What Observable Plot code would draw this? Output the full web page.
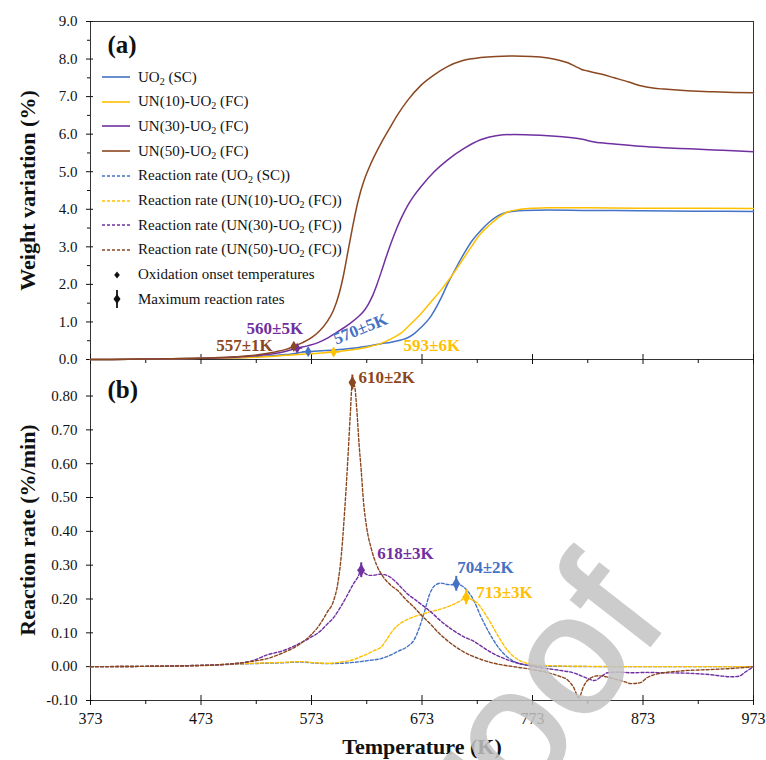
<!DOCTYPE html>
<html>
<head>
<meta charset="utf-8">
<script src="https://cdn.jsdelivr.net/npm/d3@7"></script>
<script src="https://cdn.jsdelivr.net/npm/@observablehq/plot@0.6"></script>
<style>
  html, body { margin: 0; padding: 0; background: #fff; overflow: hidden; }
  #chart { position: relative; width: 766px; height: 760px; font-family: "Liberation Serif", "Times New Roman", Times, serif; color: #111; }
  #chart > svg, #chart > figure { position: absolute; left: 0; margin: 0; }
  g[aria-label="value label"] text { letter-spacing: 1.8px; }
  .legend-row { position: absolute; left: 100px; height: 20px; display: flex; align-items: center; font-size: 15px; white-space: nowrap; }
  .legend-row svg { width: 32px; height: 20px; margin-right: 6px; overflow: visible; }
  .legend-row sub { font-size: 10px; vertical-align: -3px; line-height: 0; }
</style>
</head>
<body>
<div id="chart"></div>
<script>
// ---- axes ----
const tempTicks = [373, 473, 573, 673, 773, 873, 973];
const tempMinorTicks = [423, 523, 623, 723, 823, 923];
const weightTicks = [0, 1, 2, 3, 4, 5, 6, 7, 8, 9];
const weightMinorTicks = [0.5, 1.5, 2.5, 3.5, 4.5, 5.5, 6.5, 7.5, 8.5];
const rateTicks = [-0.1, 0, 0.1, 0.2, 0.3, 0.4, 0.5, 0.6, 0.7, 0.8];

// ---- samples ----
const samples = ["UO2 (SC)", "UN(10)-UO2 (FC)", "UN(30)-UO2 (FC)", "UN(50)-UO2 (FC)"];
const sampleColors = ["#4472c4", "#ffc000", "#7030a0", "#8b4720"];

// ---- (a) weight variation (%) vs temperature (K) ----
const weightT_UO2 = [373, 423, 473, 523, 550, 570, 593, 610, 625, 636, 645, 654, 660, 666, 672, 681, 690, 696, 704, 711, 718, 726, 734, 742, 750, 756, 765, 787, 820, 870, 920, 973];
const weight_UO2  = [0, 0.01, 0.03, 0.07, 0.13, 0.21, 0.25, 0.3, 0.36, 0.42, 0.46, 0.52, 0.58, 0.69, 0.85, 1.15, 1.62, 2.0, 2.45, 2.82, 3.15, 3.43, 3.66, 3.83, 3.92, 3.95, 3.97, 3.98, 3.97, 3.96, 3.95, 3.94];

const weightT_UN10 = [373, 423, 473, 523, 550, 570, 593, 610, 625, 636, 645, 654, 663, 672, 681, 690, 696, 704, 711, 718, 726, 734, 742, 750, 762, 775, 787, 820, 870, 920, 973];
const weight_UN10  = [0, 0.01, 0.03, 0.06, 0.11, 0.15, 0.2, 0.26, 0.34, 0.43, 0.55, 0.7, 0.95, 1.22, 1.53, 1.84, 2.07, 2.4, 2.71, 3.02, 3.35, 3.58, 3.78, 3.92, 4.0, 4.03, 4.04, 4.04, 4.03, 4.03, 4.02];

const weightT_UN30 = [373, 423, 473, 503, 523, 540, 550, 560, 570, 579, 587, 593, 600, 608, 615, 620, 624, 628, 632, 636, 640, 645, 650, 654, 660, 666, 672, 684, 696, 710, 726, 740, 756, 772, 787, 800, 817, 829, 847, 870, 892, 915, 937, 955, 973];
const weight_UN30  = [0, 0.01, 0.03, 0.06, 0.1, 0.16, 0.22, 0.3, 0.37, 0.45, 0.56, 0.67, 0.8, 0.96, 1.13, 1.28, 1.45, 1.68, 1.98, 2.32, 2.68, 3.1, 3.48, 3.75, 4.1, 4.37, 4.6, 5.0, 5.31, 5.6, 5.85, 5.96, 5.99, 5.98, 5.96, 5.93, 5.87, 5.79, 5.74, 5.68, 5.64, 5.61, 5.58, 5.56, 5.53];

const weightT_UN50 = [373, 423, 473, 503, 523, 540, 550, 557, 565, 573, 580, 587, 593, 598, 602, 606, 610, 615, 620, 625, 630, 636, 643, 651, 660, 672, 684, 696, 710, 726, 740, 756, 772, 787, 797, 805, 812, 817, 823, 835, 847, 860, 871, 882, 892, 910, 937, 955, 973];
const weight_UN50  = [0, 0.01, 0.03, 0.07, 0.12, 0.2, 0.27, 0.35, 0.45, 0.58, 0.75, 1.0, 1.32, 1.75, 2.25, 2.88, 3.5, 4.2, 4.72, 5.1, 5.42, 5.76, 6.12, 6.52, 6.9, 7.3, 7.58, 7.8, 7.96, 8.04, 8.07, 8.08, 8.07, 8.03, 7.97, 7.9, 7.8, 7.73, 7.68, 7.6, 7.5, 7.39, 7.29, 7.23, 7.2, 7.16, 7.13, 7.11, 7.1];

// oxidation onset temperatures (K), their uncertainty and the weight at onset
const onsetTemp = [570, 593, 560, 557];
const onsetErr = [5, 6, 5, 1];
const onsetWeight = [0.21, 0.2, 0.3, 0.35];

// ---- (b) reaction rate (%/min) vs temperature (K) ----
const rateT_UO2 = [373, 423, 473, 503, 530, 550, 563, 575, 587, 600, 612, 624, 636, 645, 651, 660, 666, 670, 675, 680, 684, 690, 696, 700, 704, 710, 714, 720, 726, 733, 741, 748, 756, 765, 780, 800, 850, 900, 973];
const rate_UO2  = [0, 0.001, 0.004, 0.007, 0.01, 0.012, 0.014, 0.011, 0.009, 0.01, 0.013, 0.018, 0.024, 0.035, 0.045, 0.06, 0.08, 0.11, 0.16, 0.215, 0.238, 0.247, 0.243, 0.242, 0.245, 0.237, 0.225, 0.195, 0.15, 0.105, 0.062, 0.035, 0.016, 0.006, 0.002, 0.001, 0, 0, 0];

const rateT_UN10 = [373, 423, 473, 503, 530, 550, 563, 575, 587, 600, 612, 618, 624, 630, 636, 641, 645, 651, 657, 666, 673, 681, 690, 696, 702, 708, 713, 718, 723, 729, 735, 742, 750, 758, 765, 775, 787, 820, 870, 920, 973];
const rate_UN10  = [0, 0.001, 0.004, 0.008, 0.011, 0.013, 0.015, 0.012, 0.01, 0.014, 0.022, 0.03, 0.038, 0.048, 0.058, 0.08, 0.1, 0.122, 0.135, 0.148, 0.155, 0.163, 0.17, 0.177, 0.185, 0.195, 0.205, 0.198, 0.188, 0.162, 0.13, 0.09, 0.05, 0.025, 0.013, 0.006, 0.003, 0.001, 0, 0, 0];

const rateT_UN30 = [373, 423, 473, 503, 520, 533, 548, 563, 572, 581, 587, 593, 600, 606, 611, 615, 618, 621, 625, 629, 634, 639, 644, 648, 654, 660, 666, 672, 681, 690, 700, 711, 720, 726, 734, 741, 749, 756, 772, 787, 800, 810, 817, 823, 829, 835, 841, 850, 862, 877, 892, 910, 923, 935, 945, 953, 960, 966, 973];
const rate_UN30  = [0, 0.001, 0.004, 0.009, 0.018, 0.035, 0.048, 0.07, 0.086, 0.105, 0.125, 0.145, 0.18, 0.215, 0.245, 0.265, 0.285, 0.277, 0.27, 0.27, 0.273, 0.272, 0.265, 0.255, 0.235, 0.215, 0.2, 0.185, 0.162, 0.135, 0.11, 0.088, 0.075, 0.062, 0.045, 0.033, 0.022, 0.014, 0.002, -0.006, -0.012, -0.018, -0.027, -0.035, -0.041, -0.03, -0.018, -0.016, -0.018, -0.017, -0.018, -0.019, -0.021, -0.024, -0.028, -0.03, -0.028, -0.015, 0];

const rateT_UN50 = [373, 423, 473, 503, 520, 533, 548, 563, 572, 581, 587, 593, 597, 600, 603, 606, 608, 610, 612, 614, 616, 618, 620, 623, 627, 632, 638, 645, 651, 658, 666, 673, 681, 688, 696, 710, 726, 741, 756, 772, 787, 797, 805, 810, 815, 819, 823, 832, 840, 847, 855, 862, 870, 877, 885, 892, 910, 930, 950, 973];
const rate_UN50  = [0, 0.001, 0.003, 0.009, 0.016, 0.024, 0.042, 0.068, 0.092, 0.127, 0.16, 0.195, 0.25, 0.33, 0.46, 0.62, 0.74, 0.84, 0.83, 0.76, 0.66, 0.58, 0.49, 0.41, 0.35, 0.3, 0.265, 0.24, 0.225, 0.2, 0.175, 0.15, 0.125, 0.1, 0.077, 0.045, 0.022, 0.008, 0, -0.008, -0.018, -0.028, -0.04, -0.06, -0.092, -0.06, -0.04, -0.027, -0.03, -0.036, -0.043, -0.05, -0.048, -0.032, -0.022, -0.018, -0.012, -0.009, -0.006, 0];

// maximum reaction rates: temperature (K), uncertainty (K), rate (%/min)
const peakTemp = [704, 713, 618, 610];
const peakErr = [2, 3, 3, 2];
const peakRate = [0.245, 0.205, 0.285, 0.84];
const peakRateErr = [0.022, 0.022, 0.022, 0.022];

// ---- tables for the marks ----
const series = (name, temps, values) => temps.map((T, i) => ({sample: name, T, v: values[i]}));
const weightRows = [
  ...series(samples[0], weightT_UO2, weight_UO2),
  ...series(samples[1], weightT_UN10, weight_UN10),
  ...series(samples[2], weightT_UN30, weight_UN30),
  ...series(samples[3], weightT_UN50, weight_UN50)
];
const rateRows = [
  ...series(samples[0], rateT_UO2, rate_UO2),
  ...series(samples[1], rateT_UN10, rate_UN10),
  ...series(samples[2], rateT_UN30, rate_UN30),
  ...series(samples[3], rateT_UN50, rate_UN50)
];
const onsetRows = samples.map((s, i) => ({sample: s, T: onsetTemp[i], err: onsetErr[i], v: onsetWeight[i]}));
const peakRows = samples.map((s, i) => ({sample: s, T: peakTemp[i], err: peakErr[i], v: peakRate[i], vErr: peakRateErr[i]}));
const valueText = d => `${d.T}±${d.err}K`;

// label placement next to each marker (order follows `samples`)
const onsetLabelPlacement = [
  {textAnchor: "start", dx: 26, dy: -12, rotate: -22},
  {textAnchor: "start", dx: 70, dy: -6},
  {textAnchor: "end", dx: 6, dy: -20},
  {textAnchor: "end", dx: -21, dy: -1}
];
const peakLabelPlacement = [
  {textAnchor: "start", dx: 1, dy: -16},
  {textAnchor: "start", dx: 10, dy: -5},
  {textAnchor: "start", dx: 16, dy: -17},
  {textAnchor: "start", dx: 6, dy: -5}
];

const serif = '"Liberation Serif", "Times New Roman", Times, serif';
const ink = "#111";
const common = {
  width: 766,
  marginLeft: 90,
  marginRight: 13,
  x: {domain: [373, 973]},
  color: {domain: samples, range: sampleColors},
  style: {background: "transparent", overflow: "visible", fontFamily: serif, fontSize: "15px", color: ink}
};
const noText = () => "";

function tempAxes(withLabels) {
  return [
    Plot.axisX(tempTicks, {tickSize: 5, tickPadding: 7, fontSize: 16, label: null, tickFormat: withLabels ? (d => String(d)) : noText}),
    Plot.axisX(tempTicks, {tickSize: -5, label: null, tickFormat: noText}),
    Plot.axisX(tempMinorTicks, {tickSize: 4, label: null, tickFormat: noText})
  ];
}

// ---- panel (a) ----
const plotA = Plot.plot({
  ...common,
  height: 360,
  marginTop: 21,
  marginBottom: 1,
  y: {domain: [0, 9]},
  marks: [
    Plot.frame({stroke: "#333"}),
    Plot.axisY(weightTicks, {tickSize: 4, tickPadding: 9, label: null, tickFormat: d => d.toFixed(1)}),
    Plot.axisY(weightTicks, {tickSize: -3, label: null, tickFormat: noText}),
    Plot.axisY(weightMinorTicks, {tickSize: 3, label: null, tickFormat: noText}),
    ...tempAxes(false),
    Plot.line(weightRows, {x: "T", y: "v", z: "sample", stroke: "sample", strokeWidth: 1.5, curve: "monotone-x"}),
    Plot.ruleY(onsetRows, {y: "v", x1: d => d.T - d.err, x2: d => d.T + d.err, stroke: "sample", strokeWidth: 1.2}),
    Plot.dot(onsetRows, {x: "T", y: "v", fill: "sample", symbol: "diamond", r: 3.4}),
    ...onsetRows.map((d, i) => Plot.text([d], {
      x: "T", y: "v", text: valueText, fill: sampleColors[i],
      fontSize: 17, fontWeight: "bold", lineAnchor: "middle", ariaLabel: "value label",
      ...onsetLabelPlacement[i]
    })),
    Plot.text(["(a)"], {frameAnchor: "top-left", dx: 17, dy: 14, fontSize: 25, fontWeight: "bold", textAnchor: "start", lineAnchor: "top", fill: ink}),
    Plot.text(["Weight variation (%)"], {frameAnchor: "left", dx: -63, rotate: -90, textAnchor: "middle", lineAnchor: "middle", fontSize: 22, fontWeight: "bold", fill: ink})
  ]
});

// ---- panel (b) ----
const plotB = Plot.plot({
  ...common,
  height: 401,
  marginTop: 0,
  marginBottom: 60,
  y: {domain: [-0.1, 0.908]},
  marks: [
    Plot.frame({stroke: "#333"}),
    Plot.axisY(rateTicks, {tickSize: 4, tickPadding: 9, label: null, tickFormat: d => d.toFixed(2)}),
    Plot.axisY(rateTicks, {tickSize: -3, label: null, tickFormat: noText}),
    ...tempAxes(true),
    Plot.line(rateRows, {x: "T", y: "v", z: "sample", stroke: "sample", strokeWidth: 1.4, strokeDasharray: "3,2", curve: "monotone-x"}),
    Plot.ruleX(peakRows, {x: "T", y1: d => d.v - d.vErr, y2: d => d.v + d.vErr, stroke: "sample", strokeWidth: 2}),
    Plot.ruleY(peakRows, {y: "v", x1: d => d.T - d.err, x2: d => d.T + d.err, stroke: "sample", strokeWidth: 1.5}),
    Plot.dot(peakRows, {x: "T", y: "v", fill: "sample", symbol: "diamond", r: 4}),
    ...peakRows.map((d, i) => Plot.text([d], {
      x: "T", y: "v", text: valueText, fill: sampleColors[i],
      fontSize: 17, fontWeight: "bold", lineAnchor: "middle", ariaLabel: "value label",
      ...peakLabelPlacement[i]
    })),
    Plot.text(["(b)"], {frameAnchor: "top-left", dx: 17, dy: 21, fontSize: 25, fontWeight: "bold", textAnchor: "start", lineAnchor: "top", fill: ink}),
    Plot.text(["Reaction rate (%/min)"], {frameAnchor: "left", dx: -63, rotate: -90, textAnchor: "middle", lineAnchor: "middle", fontSize: 22, fontWeight: "bold", fill: ink}),
    Plot.text(["Temperature (K)"], {frameAnchor: "bottom", dy: 46, textAnchor: "middle", lineAnchor: "middle", fontSize: 22, fontWeight: "bold", fill: ink})
  ]
});

const chart = document.getElementById("chart");
plotB.style.top = "359px";
plotA.style.top = "0px";
chart.append(plotB, plotA);

// ---- legend (inside panel a) ----
const withSub = s => s.replace(/UO2/g, "UO<sub>2</sub>");
const legendEntries = [
  ...samples.map((s, i) => ({label: withSub(s), color: sampleColors[i], kind: "solid"})),
  ...samples.map((s, i) => ({label: "Reaction rate (" + withSub(s) + ")", color: sampleColors[i], kind: "dashed"})),
  {label: "Oxidation onset temperatures", color: "#111", kind: "onset"},
  {label: "Maximum reaction rates", color: "#111", kind: "peak"}
];
legendEntries.forEach((e, i) => {
  const row = document.createElement("div");
  row.className = "legend-row";
  row.style.top = (67 + i * 24.7) + "px";
  let swatch;
  if (e.kind === "solid" || e.kind === "dashed") {
    swatch = `<line x1="2" x2="30" y1="10" y2="10" stroke="${e.color}" stroke-width="1.6"${e.kind === "dashed" ? ' stroke-dasharray="3,2"' : ""}/>`;
  } else if (e.kind === "onset") {
    swatch = `<path d="M17,6.5L19.8,10L17,13.5L14.2,10Z" fill="${e.color}"/>`;
  } else {
    swatch = `<line x1="17" x2="17" y1="1" y2="19" stroke="${e.color}" stroke-width="1.8"/><path d="M17,5L20.5,10L17,15L13.5,10Z" fill="${e.color}"/>`;
  }
  row.innerHTML = `<svg viewBox="0 0 32 20">${swatch}</svg><span>${e.label}</span>`;
  chart.append(row);
});

// ---- publisher watermark ----
const mark = d3.select(chart).append("svg")
  .attr("width", 766).attr("height", 760)
  .style("top", "0px").style("pointer-events", "none");
mark.append("text")
  .attr("transform", "translate(420,940) rotate(-52)")
  .attr("font-family", '"Liberation Sans", Arial, sans-serif')
  .attr("font-size", 170)
  .attr("fill", "#c4c4c4")
  .attr("stroke", "#c4c4c4")
  .attr("stroke-width", 3)
  .attr("opacity", 0.85)
  .text("Proof");
</script>
</body>
</html>
